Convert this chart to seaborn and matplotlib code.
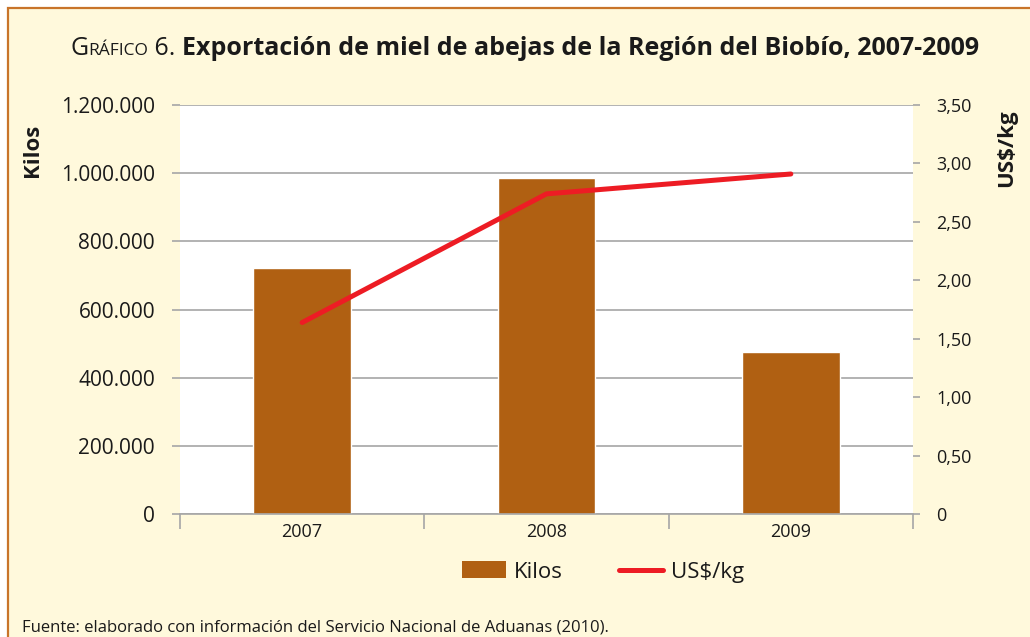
import numpy as np
import pandas as pd
import matplotlib
matplotlib.use('Agg')
import matplotlib.pyplot as plt
import matplotlib.patches as mpatches
import matplotlib.lines as mlines
import seaborn as sns

years = ['2007', '2008', '2009']
kilos = [722000, 986000, 476000]
usd_kg = [1.64, 2.74, 2.91]

left_ticks = [0, 200000, 400000, 600000, 800000, 1000000, 1200000]
left_labels = ['0', '200.000', '400.000', '600.000', '800.000', '1.000.000', '1.200.000']
right_ticks = [0, 0.5, 1.0, 1.5, 2.0, 2.5, 3.0, 3.5]
right_labels = ['0', '0,50', '1,00', '1,50', '2,00', '2,50', '3,00', '3,50']

bar_color = '#B06012'
line_color = '#ED1C24'
cream = '#FFF9DC'
border = '#C8742A'
grid_gray = '#A6A6A6'
txt = '#1A1A1A'

sns.set_style('white')
plt.rcParams['font.family'] = ['Open Sans', 'DejaVu Sans']

df = pd.DataFrame({'Año': years, 'Kilos': kilos, 'US$/kg': usd_kg})

fig = plt.figure(figsize=(10.3, 6.37), dpi=100, facecolor='white')
W, H = 1030, 637
# cream panel with orange border on top/left
fig.patches.append(mpatches.Rectangle((8 / W, -0.1), 1.2, 1 - 8 / H + 0.1, transform=fig.transFigure,
                                      facecolor=cream, edgecolor=border, lw=1.6, zorder=-10))

ax = fig.add_axes([180 / W, 1 - 514.3 / H, (913 - 180) / W, (514.3 - 105) / H])
ax.set_facecolor('white')
sns.barplot(data=df, x='Año', y='Kilos', color=bar_color, width=0.4, saturation=1, ax=ax, zorder=2)
ax.set_ylim(0, 1200000)
ax.set_yticks(left_ticks)
ax.set_yticklabels(left_labels, fontsize=15, color=txt)
ax.yaxis.grid(True, color=grid_gray, lw=1.2)
ax.set_axisbelow(True)
ax.tick_params(axis='y', length=6, width=1.2, color=grid_gray, pad=12, left=True)
ax.set_xlabel('')
ax.set_ylabel('')
for s in ['left', 'right', 'top']:
    ax.spines[s].set_visible(False)
ax.spines['bottom'].set_color(grid_gray)
ax.spines['bottom'].set_linewidth(1.2)

ax2 = ax.twinx()
sns.pointplot(data=df, x='Año', y='US$/kg', color=line_color, markers='', errorbar=None,
              linewidth=3.6, ax=ax2)
ax2.set_ylim(0, 3.5)
ax2.set_yticks(right_ticks)
ax2.set_yticklabels(right_labels, fontsize=13, color=txt)
ax2.tick_params(axis='y', length=5, width=1.2, color=grid_gray, pad=12, right=True)
ax2.set_ylabel('')
ax2.set_xlabel('')
for s in ['left', 'right', 'top', 'bottom']:
    ax2.spines[s].set_visible(False)

# category boundary ticks, labels centred under each bar
ax.set_xlim(-0.5, 2.5)
ax.set_xticks([-0.5, 0.5, 1.5, 2.5])
ax.set_xticklabels([])
ax.set_xticks([0, 1, 2], minor=True)
ax.set_xticklabels(years, minor=True, fontsize=13, color=txt)
ax.tick_params(axis='x', which='major', length=11, width=1.2, color=grid_gray, direction='out', bottom=True)
ax.tick_params(axis='x', which='minor', length=0, pad=6, bottom=True)

# axis titles near the top
fig.text(33 / W, 1 - 150 / H, 'Kilos', rotation=90, fontsize=16, fontweight='bold',
         ha='center', va='center', color=txt)
fig.text(1007 / W, 1 - 148 / H, 'US$/kg', rotation=90, fontsize=16, fontweight='bold',
         ha='center', va='center', color=txt)

# legend
handles = [mpatches.Patch(facecolor=bar_color, edgecolor='none'),
           mlines.Line2D([], [], color=line_color, lw=3.6)]
fig.legend(handles, ['Kilos', 'US$/kg'], loc='center', bbox_to_anchor=(603 / W, 1 - 572 / H),
           ncol=2, frameon=False, fontsize=16, handlelength=2.0, handleheight=0.8,
           handletextpad=0.35, columnspacing=2.5, labelcolor=txt)

# footer
fig.text(22 / W, 1 - 627 / H, 'Fuente: elaborado con información del Servicio Nacional de Aduanas (2010).',
         fontsize=12, ha='left', va='center', color=txt)

# title with small caps prefix
ty = 1 - 55 / H
parts = [('G', 18, 'normal'), ('RÁFICO', 12.5, 'normal'), (' 6. ', 18, 'normal'),
         ('Exportación de miel de abejas de la Región del Biobío, 2007-2009', 18, 'bold')]
texts = [fig.text(0, ty, p, fontsize=fs, fontweight=fw, ha='left', va='baseline', color=txt)
         for p, fs, fw in parts]
fig.canvas.draw()
r = fig.canvas.get_renderer()
widths = [t.get_window_extent(r).width for t in texts]
x = 525 - sum(widths) / 2
for t, w in zip(texts, widths):
    t.set_x(x / W)
    x += w

fig.savefig('out.png', dpi=100, facecolor='white')
